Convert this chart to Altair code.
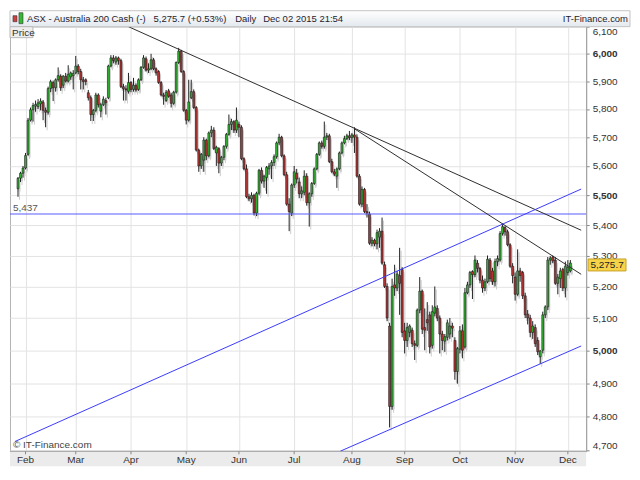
import altair as alt
import pandas as pd

# ---------------- data (daily candles, index 0 = Mon 2 Feb 2015) ----------------
FIRST_IDX = -3
jan = [(5522, 5562, 5495, 5558), (5558, 5580, 5545, 5575), (5575, 5600, 5560, 5593)]
feb = [(5593, 5645, 5588, 5636), (5640, 5768, 5635, 5760), (5760, 5805, 5755, 5797),
       (5797, 5822, 5755, 5812), (5810, 5830, 5790, 5816), (5808, 5835, 5800, 5822),
       (5818, 5838, 5795, 5828), (5825, 5832, 5760, 5795), (5795, 5805, 5735, 5788),
       (5788, 5880, 5780, 5873), (5873, 5905, 5860, 5898), (5895, 5902, 5828, 5876),
       (5876, 5910, 5862, 5905), (5905, 5950, 5898, 5920), (5918, 5925, 5865, 5876),
       (5885, 5922, 5875, 5918), (5918, 5930, 5895, 5900), (5900, 5958, 5895, 5925),
       (5915, 5935, 5905, 5930), (5920, 5940, 5870, 5928)]
mar = [(5930, 5992, 5925, 5955), (5955, 5962, 5925, 5935), (5935, 5945, 5870, 5905),
       (5905, 5915, 5870, 5898), (5905, 5910, 5885, 5898), (5858, 5868, 5830, 5840),
       (5840, 5848, 5757, 5780), (5780, 5800, 5757, 5795), (5795, 5858, 5788, 5850),
       (5850, 5856, 5805, 5815), (5792, 5822, 5770, 5815), (5815, 5845, 5810, 5835),
       (5830, 5840, 5780, 5822), (5840, 5960, 5835, 5955), (5955, 5995, 5950, 5985),
       (5985, 5995, 5965, 5975), (5970, 5992, 5960, 5985), (5985, 5990, 5960, 5975),
       (5975, 5982, 5875, 5880), (5880, 5890, 5830, 5872), (5872, 5885, 5830, 5868),
       (5863, 5930, 5855, 5895)]
apr = [(5895, 5900, 5860, 5870), (5870, 5912, 5862, 5885), (5885, 5892, 5862, 5868),
       (5870, 5910, 5865, 5905), (5905, 5955, 5900, 5950), (5950, 5995, 5945, 5985),
       (5982, 5990, 5935, 5940), (5940, 5965, 5930, 5945), (5945, 6000, 5940, 5978),
       (5978, 5985, 5940, 5945), (5945, 5950, 5920, 5930), (5935, 5940, 5890, 5895),
       (5895, 5900, 5845, 5850), (5850, 5858, 5815, 5845), (5830, 5868, 5825, 5860),
       (5865, 5872, 5840, 5845), (5850, 5858, 5805, 5820), (5820, 5865, 5815, 5860),
       (5860, 5972, 5855, 5968), (5968, 6022, 5962, 6010), (6010, 6015, 5930, 5935),
       (5935, 5940, 5790, 5795)]
may = [(5795, 5800, 5745, 5760), (5760, 5905, 5755, 5825), (5840, 5905, 5835, 5862),
       (5862, 5870, 5800, 5805), (5805, 5810, 5650, 5655), (5655, 5660, 5580, 5600),
       (5600, 5645, 5590, 5640), (5620, 5700, 5580, 5690), (5690, 5695, 5620, 5635),
       (5635, 5720, 5630, 5715), (5715, 5740, 5700, 5725), (5725, 5735, 5655, 5660),
       (5645, 5670, 5600, 5665), (5660, 5665, 5575, 5610), (5610, 5635, 5600, 5630),
       (5630, 5672, 5620, 5668), (5668, 5715, 5660, 5710), (5710, 5780, 5705, 5745),
       (5745, 5765, 5725, 5755), (5755, 5760, 5715, 5725), (5725, 5805, 5715, 5760)]
jun = [(5745, 5755, 5700, 5735), (5735, 5742, 5620, 5625), (5625, 5630, 5585, 5590),
       (5590, 5605, 5490, 5495), (5495, 5505, 5480, 5488), (5488, 5510, 5475, 5500),
       (5500, 5505, 5432, 5440), (5440, 5512, 5430, 5507), (5507, 5590, 5500, 5585),
       (5585, 5595, 5540, 5548), (5548, 5570, 5525, 5565), (5560, 5600, 5505, 5595),
       (5590, 5610, 5570, 5600), (5600, 5620, 5555, 5612), (5612, 5640, 5600, 5632),
       (5632, 5685, 5625, 5680), (5680, 5712, 5672, 5700), (5700, 5705, 5630, 5635),
       (5635, 5640, 5565, 5570), (5570, 5580, 5465, 5470), (5470, 5490, 5380, 5445),
       (5440, 5540, 5430, 5535)]
jul = [(5535, 5600, 5525, 5580), (5575, 5590, 5540, 5555), (5545, 5560, 5490, 5505),
       (5505, 5530, 5490, 5515), (5510, 5585, 5500, 5565), (5565, 5575, 5465, 5475),
       (5475, 5510, 5395, 5505), (5505, 5545, 5495, 5540), (5540, 5595, 5535, 5590),
       (5590, 5645, 5585, 5640), (5640, 5685, 5635, 5680), (5680, 5688, 5660, 5668),
       (5668, 5755, 5660, 5700), (5700, 5715, 5690, 5705), (5705, 5712, 5610, 5615),
       (5615, 5625, 5575, 5580), (5580, 5590, 5565, 5572), (5565, 5595, 5525, 5590),
       (5590, 5650, 5585, 5645), (5645, 5685, 5640, 5680), (5680, 5705, 5675, 5695),
       (5695, 5712, 5690, 5705), (5705, 5722, 5690, 5698)]
aug = [(5698, 5715, 5680, 5708), (5708, 5735, 5645, 5700), (5700, 5710, 5560, 5565),
       (5565, 5572, 5465, 5470), (5470, 5530, 5460, 5520), (5520, 5525, 5440, 5445),
       (5445, 5470, 5425, 5440), (5437, 5445, 5335, 5340), (5340, 5360, 5330, 5350),
       (5350, 5355, 5330, 5338), (5338, 5385, 5320, 5375), (5360, 5390, 5325, 5380),
       (5380, 5425, 5270, 5275), (5270, 5280, 5195, 5200), (5200, 5210, 5090, 5100),
       (5075, 5085, 4768, 4830), (4830, 5225, 4820, 5200), (5205, 5270, 5170, 5195),
       (5195, 5250, 5185, 5240), (5235, 5325, 5110, 5210), (5255, 5262, 5040, 5055)]
sep = [(5060, 5085, 4990, 5030), (5030, 5085, 5010, 5070), (5055, 5080, 5040, 5075),
       (5062, 5070, 5010, 5020), (5020, 5030, 4970, 5015), (5015, 5130, 5010, 5125),
       (5125, 5230, 5115, 5185), (5185, 5190, 5050, 5065), (5070, 5130, 5000, 5062),
       (5095, 5150, 5060, 5085), (5110, 5120, 4990, 5010), (5015, 5140, 5005, 5120),
       (5115, 5200, 5105, 5135), (5130, 5140, 5090, 5100), (5100, 5108, 4990, 5050),
       (5050, 5060, 5000, 5030), (5028, 5050, 4995, 5042), (5040, 5095, 5030, 5085),
       (5050, 5100, 5035, 5075), (5075, 5085, 5040, 5068), (5030, 5040, 4910, 4935),
       (4935, 5010, 4898, 5005)]
oct_ = [(5003, 5075, 4990, 5060), (5060, 5080, 4975, 5000), (5010, 5195, 5005, 5180),
        (5180, 5215, 5175, 5205), (5205, 5250, 5195, 5245), (5248, 5252, 5160, 5238),
        (5238, 5300, 5230, 5285), (5275, 5285, 5245, 5258), (5258, 5262, 5210, 5220),
        (5220, 5235, 5180, 5195), (5195, 5225, 5185, 5215), (5215, 5300, 5210, 5288),
        (5285, 5292, 5215, 5225), (5250, 5260, 5205, 5215), (5215, 5290, 5200, 5280),
        (5280, 5300, 5265, 5290), (5285, 5380, 5280, 5372), (5372, 5405, 5365, 5395),
        (5392, 5398, 5365, 5378), (5378, 5385, 5330, 5335), (5335, 5340, 5260, 5265),
        (5265, 5275, 5210, 5235)]
nov = [(5230, 5245, 5155, 5175), (5175, 5320, 5170, 5250), (5250, 5260, 5215, 5235),
       (5245, 5250, 5160, 5170), (5170, 5180, 5100, 5110), (5112, 5125, 5080, 5100),
       (5100, 5110, 5040, 5055), (5055, 5090, 5035, 5075), (5070, 5080, 5010, 5020),
       (5030, 5040, 4985, 4995), (4980, 5000, 4958, 4998), (5000, 5120, 4990, 5110),
       (5110, 5140, 5100, 5135), (5135, 5295, 5125, 5285), (5285, 5298, 5270, 5292),
       (5295, 5300, 5275, 5282), (5285, 5295, 5205, 5210), (5210, 5240, 5175, 5230),
       (5225, 5260, 5195, 5250), (5255, 5260, 5185, 5195), (5195, 5280, 5165, 5265)]
dec = [(5245, 5285, 5235, 5262), (5250, 5285, 5245, 5275.7)]

month_names = ["Feb", "Mar", "Apr", "May", "Jun", "Jul", "Aug", "Sep", "Oct", "Nov", "Dec"]
month_starts = [0, 20, 42, 64, 85, 107, 130, 151, 173, 195, 216]
y_ticks = [4700, 4800, 4900, 5000, 5100, 5200, 5300, 5400, 5500, 5600, 5700, 5800, 5900, 6000, 6100]

level_price = 5437
last_price = 5275.7
last_label = "5,275.7"

line_names = ["trend_long", "trend_short", "channel_upper", "channel_lower"]
line_x0 = [41.0, 131.1, -4.2, 125.4]
line_p0 = [6101, 5729, 4727, 4699]
line_x1 = [221.3, 221.3, 221.3, 221.3]
line_p1 = [5383, 5239, 5521, 5013]
line_colors = ["#2e2e2e", "#2e2e2e", "#3b3bff", "#3b3bff"]

# ---------------- frames ----------------
rows = [r for m in (jan, feb, mar, apr, may, jun, jul, aug, sep, oct_, nov, dec) for r in m]
df = pd.DataFrame(rows, columns=["open", "high", "low", "close"])
df["idx"] = list(range(FIRST_IDX, FIRST_IDX + len(df)))

months_df = pd.DataFrame({"idx": month_starts, "name": month_names})
lines_df = pd.DataFrame({
    "name": line_names + line_names,
    "idx": line_x0 + line_x1,
    "price": line_p0 + line_p1,
})
level_df = pd.DataFrame({"price": [level_price], "label": ["5,437"]})
tag_df = pd.DataFrame({"price": [last_price], "label": [last_label]})
one = pd.DataFrame({"a": [0]})

# ---------------- scales / axes ----------------
W, H = 578, 426
FONT = "Liberation Sans"
X_DOMAIN = [-4.2, 221.3]
Y_DOMAIN = [4698.5, 6101]

x_scale = alt.Scale(domain=X_DOMAIN, nice=False, zero=False)
x_axis = alt.Axis(values=month_starts, labels=False, ticks=False, domain=False,
                  grid=True, gridColor="#e3e3e3", title=None)
y_scale = alt.Scale(type="log", domain=Y_DOMAIN, nice=False, zero=False)
y_axis = alt.Axis(orient="right", values=y_ticks, format=",d", labelFlush=True,
                  tickSize=3, tickColor="#888888", domainColor="#a0a0a0",
                  labelPadding=3, labelColor="#333333", labelFontSize=10, labelFont=FONT,
                  labelFontWeight={"condition": {"test": "datum.value % 500 === 0", "value": "bold"},
                                   "value": "normal"},
                  grid=True, gridColor="#e3e3e3", title=None)


def X(field):
    return alt.X(f"{field}:Q", scale=x_scale, axis=x_axis)


def Y(field):
    return alt.Y(f"{field}:Q", scale=y_scale, axis=y_axis)


up_test = "datum.close >= datum.open"

# ---------------- candles ----------------
base = alt.Chart(df)
shadow_wick = base.mark_rule(color="#cdcdcd", strokeWidth=1, xOffset=1.5, yOffset=3, y2Offset=3).encode(
    x=X("idx"), y=Y("high"), y2="low:Q")
shadow_body = base.mark_bar(size=2, color="#cdcdcd", xOffset=1.5, yOffset=3, y2Offset=3).encode(
    x=X("idx"), y=Y("open"), y2="close:Q")
wick = base.mark_rule(color="#222222", strokeWidth=1).encode(
    x=X("idx"), y=Y("high"), y2="low:Q")
body = base.mark_bar(size=1.9, stroke="#1a1a1a", strokeWidth=0.6).encode(
    x=X("idx"), y=Y("open"), y2="close:Q",
    color=alt.condition(up_test, alt.value("#33bb33"), alt.value("#bb3535")))

# ---------------- lines ----------------
level_rule = alt.Chart(level_df).mark_rule(color="#5a5aff", strokeWidth=1).encode(y=Y("price"))
level_text = alt.Chart(level_df).mark_text(align="left", baseline="middle", dy=-6, fontSize=10,
                                           font=FONT, color="#555555").encode(
    x=alt.value(3), y=Y("price"), text="label:N")
trend_lines = alt.Chart(lines_df).mark_line(clip=True, strokeWidth=1).encode(
    x=X("idx"), y=Y("price"),
    color=alt.Color("name:N", scale=alt.Scale(domain=line_names, range=line_colors), legend=None))

# ---------------- price tag ----------------
tag_box = alt.Chart(tag_df).mark_rect(fill="#f6d44a", stroke="#c9a227", strokeWidth=1,
                                      yOffset=-4, y2Offset=8).encode(
    x=alt.value(W + 2), x2=alt.value(W + 40), y=Y("price"), y2="price:Q")
tag_text = alt.Chart(tag_df).mark_text(align="center", baseline="middle", dy=2, fontSize=10, font=FONT,
                                       color="#222222").encode(
    x=alt.value(W + 21), y=Y("price"), text="label:N")

# ---------------- x band & month labels ----------------
band = alt.Chart(one).mark_rect(fill="#ebebeb").encode(
    x=alt.value(0), x2=alt.value(W), y=alt.value(H), y2=alt.value(H + 15))
band_line = alt.Chart(one).mark_rule(color="#a0a0a0").encode(
    x=alt.value(0), x2=alt.value(W), y=alt.value(H))
month_ticks = alt.Chart(months_df).mark_rule(color="#888888").encode(
    x=X("idx"), y=alt.value(H), y2=alt.value(H + 3))
month_text = alt.Chart(months_df).mark_text(baseline="middle", align="center", fontSize=10,
                                            font=FONT, color="#333333").encode(
    x=X("idx"), y=alt.value(H + 9), text="name:N")
copyright_text = alt.Chart(one).mark_text(align="left", baseline="middle", fontSize=10, font=FONT,
                                          color="#444444", text="© IT-Finance.com").encode(
    x=alt.value(3), y=alt.value(H - 6))

# ---------------- header ----------------
grad = alt.LinearGradient(gradient="linear", x1=0, y1=0, x2=0, y2=1,
                          stops=[alt.GradientStop(color="#ffffff", offset=0),
                                 alt.GradientStop(color="#e4e9ee", offset=1)])
header = alt.Chart(one).mark_rect(fill=grad, stroke="#c4c4c4", strokeWidth=1).encode(
    x=alt.value(0), x2=alt.value(W + 44), y=alt.value(-16), y2=alt.value(0))
icon_r = alt.Chart(one).mark_rect(fill="#d04040", stroke="#333333", strokeWidth=0.6).encode(
    x=alt.value(3), x2=alt.value(7), y=alt.value(-11), y2=alt.value(-5))
icon_g = alt.Chart(one).mark_rect(fill="#33bb33", stroke="#333333", strokeWidth=0.6).encode(
    x=alt.value(9), x2=alt.value(13), y=alt.value(-14), y2=alt.value(-3))


def htext(txt, xpos, align="left"):
    return alt.Chart(one).mark_text(align=align, baseline="middle", fontSize=9.5, font=FONT,
                                    color="#1e2430", text=txt).encode(
        x=alt.value(xpos), y=alt.value(-8))


h1 = htext("ASX - Australia 200 Cash (-)", 17)
h2 = htext("5,275.7 (+0.53%)", 144)
h3 = htext("Daily", 226)
h4 = htext("Dec 02 2015 21:54", 254)
h5 = htext("IT-Finance.com", W + 42, "right")

price_box = alt.Chart(one).mark_rect(fill="#eeeeee", stroke="#b8b8b8", strokeWidth=1).encode(
    x=alt.value(0), x2=alt.value(23), y=alt.value(0), y2=alt.value(11))
price_lbl = alt.Chart(one).mark_text(align="left", baseline="middle", fontSize=10, font=FONT,
                                     color="#333333", text="Price").encode(
    x=alt.value(2), y=alt.value(6))

chart = alt.layer(
    band, band_line, month_ticks, month_text,
    shadow_wick, shadow_body, wick, body,
    level_rule, level_text, trend_lines,
    tag_box, tag_text, copyright_text,
    header, icon_r, icon_g, h1, h2, h3, h4, h5,
    price_box, price_lbl,
).properties(
    width=W, height=H, padding={"left": 1, "top": 1, "right": 1, "bottom": 1},
    background="white",
).configure_view(stroke="#b4b4b4", strokeWidth=1)

chart.save("out.html", embed_options={"renderer": "svg", "actions": False})
